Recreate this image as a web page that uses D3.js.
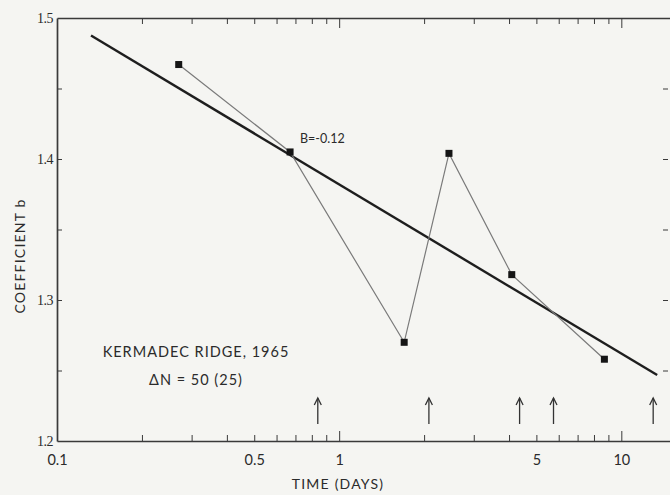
<!DOCTYPE html>
<html>
<head>
<meta charset="utf-8">
<script src="https://cdn.jsdelivr.net/npm/d3@7"></script>
<style>
  html, body { margin: 0; padding: 0; background: #f5f5f2; }
  svg { display: block; }
  .axis path, .axis line { stroke: #3a3a3a; }
  text { fill: #2b2b2b; }
</style>
</head>
<body>
<svg id="chart" width="670" height="495"></svg>
<script>
// Observation times (days) and the fitted coefficient b at each
const times = [0.27, 0.67, 1.70, 2.45, 4.09, 8.71];
const coeffB = [1.467, 1.405, 1.270, 1.404, 1.318, 1.258];

// Regression line b = b1 + B * log10(t)
const slopeB = -0.12;
const interceptB1 = 1.382;
const fitRange = [0.132, 13.4];

// Times marked with arrows along the lower axis
const arrowTimes = [0.84, 2.08, 4.36, 5.75, 12.97];

// Axis ticks and labels
const xTicks = [0.2, 0.3, 0.4, 0.5, 0.6, 0.7, 0.8, 0.9, 1, 2, 3, 4, 5, 6, 7, 8, 9, 10];
const xMajor = [1, 10];
const xLabels = [0.1, 0.5, 1, 5, 10];
const yTicks = [1.2, 1.25, 1.3, 1.35, 1.4, 1.45, 1.5];
const yLabels = [1.2, 1.3, 1.4, 1.5];

const svg = d3.select("#chart");
const plotL = 57, plotR = 671, plotT = 18, plotB = 441;

const x = d3.scaleLog().domain([0.1, 15]).range([plotL, plotR]);
const y = d3.scaleLinear().domain([1.2, 1.5]).range([plotB, plotT]);

const sans = "Lato, 'DejaVu Sans', sans-serif";
const serif = "'Liberation Serif', 'DejaVu Serif', serif";

// Bottom axis with inward ticks
const xAxis = svg.append("g").attr("class", "axis")
  .attr("transform", `translate(0,${plotB})`)
  .call(d3.axisBottom(x).tickValues([0.1, ...xTicks]).tickSizeInner(-5).tickSizeOuter(0)
    .tickPadding(14)
    .tickFormat(d => xLabels.includes(d) ? d3.format("")(d) : ""));
xAxis.selectAll(".tick line").attr("y2", d => xMajor.includes(d) ? -10 : (d === 0.1 ? 0 : -6));
xAxis.select(".domain").attr("stroke-width", 1.7);
xAxis.selectAll("text").attr("font-family", sans).attr("font-size", 14.5).attr("fill", "#2b2b2b");

// Top axis with inward ticks
const xTop = svg.append("g").attr("class", "axis")
  .attr("transform", `translate(0,${plotT})`)
  .call(d3.axisTop(x).tickValues(xTicks).tickSizeInner(-5).tickSizeOuter(0).tickFormat(""));
xTop.selectAll(".tick line").attr("y2", d => xMajor.includes(d) ? 10 : 6);
xTop.select(".domain").attr("stroke-width", 1.5);

// Left axis
const yAxis = svg.append("g").attr("class", "axis")
  .attr("transform", `translate(${plotL},0)`)
  .call(d3.axisLeft(y).tickValues(yTicks).tickSizeInner(-5).tickSizeOuter(0)
    .tickPadding(4)
    .tickFormat(d => yLabels.includes(d) ? d3.format(".1f")(d) : ""));
yAxis.select(".domain").attr("stroke-width", 1.7);
yAxis.selectAll(".tick line").attr("x2", d => (d === 1.2 || d === 1.5) ? 0 : 5);
yAxis.selectAll("text").attr("font-family", serif).attr("font-size", 14)
  .attr("letter-spacing", -0.5).attr("fill", "#2b2b2b");

// Right-hand ticks (no axis line visible)
const yRight = svg.append("g").attr("class", "axis")
  .attr("transform", `translate(${plotR - 3},0)`)
  .call(d3.axisRight(y).tickValues([1.25, 1.3, 1.35, 1.4, 1.45]).tickSizeInner(-5).tickSizeOuter(0).tickFormat(""));
yRight.select(".domain").remove();

// Axis titles
svg.append("text")
  .attr("x", 338).attr("y", 489)
  .attr("text-anchor", "middle")
  .attr("font-family", sans).attr("font-size", 14).attr("letter-spacing", 1.2)
  .text("TIME (DAYS)");

svg.append("text")
  .attr("transform", `translate(25,256) rotate(-90)`)
  .attr("text-anchor", "middle")
  .attr("font-family", sans).attr("font-size", 14).attr("letter-spacing", 1.2)
  .text("COEFFICIENT b");

// Regression line
svg.append("path")
  .datum(fitRange)
  .attr("fill", "none")
  .attr("stroke", "#1e1e1e")
  .attr("stroke-width", 2.4)
  .attr("d", d3.line().x(t => x(t)).y(t => y(interceptB1 + slopeB * Math.log10(t))));

// Observed values joined by a thin line
const pts = times.map((t, i) => [t, coeffB[i]]);
svg.append("path")
  .datum(pts)
  .attr("fill", "none")
  .attr("stroke", "#7a7a7a")
  .attr("stroke-width", 1.2)
  .attr("d", d3.line().x(d => x(d[0])).y(d => y(d[1])));

svg.selectAll("rect.pt")
  .data(pts)
  .join("rect")
  .attr("class", "pt")
  .attr("x", d => x(d[0]) - 3.5)
  .attr("y", d => y(d[1]) - 3.5)
  .attr("width", 7).attr("height", 7)
  .attr("fill", "#151515");

// Slope annotation
svg.append("text")
  .attr("x", 300).attr("y", 143)
  .attr("font-family", sans).attr("font-size", 12.5)
  .text("B=-0.12");

// Arrows marking times along the lower axis
const arrows = svg.append("g").attr("stroke", "#333").attr("stroke-width", 1.3).attr("fill", "none");
arrowTimes.forEach(t => {
  const ax = x(t);
  arrows.append("line").attr("x1", ax).attr("x2", ax).attr("y1", 424).attr("y2", 398);
  arrows.append("path").attr("d", `M${ax - 3.5},${405} L${ax},${398} L${ax + 3.5},${405}`);
});

// Data set description
const note = svg.append("text")
  .attr("font-family", sans).attr("font-size", 14.5).attr("letter-spacing", 1)
  .attr("text-anchor", "middle");
note.append("tspan").attr("x", 196).attr("y", 357).text("KERMADEC RIDGE, 1965");
note.append("tspan").attr("x", 196).attr("y", 385).text("ΔN = 50 (25)");
</script>
</body>
</html>
